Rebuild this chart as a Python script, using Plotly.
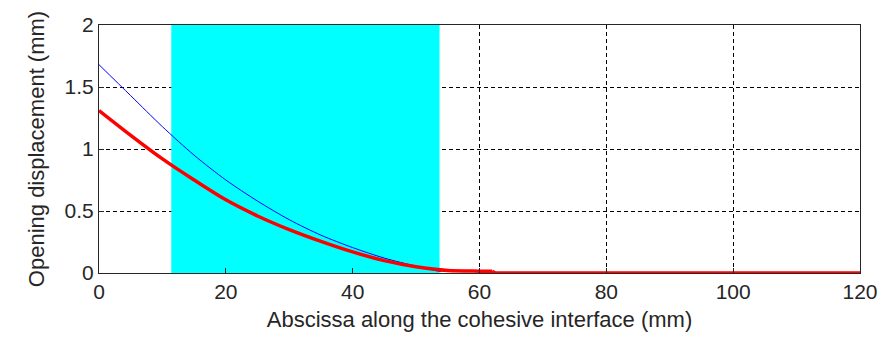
import plotly.graph_objects as go

# Data
blue_x = [0, 5, 10, 15, 20, 25, 30, 35, 40, 45, 50, 53, 54]
blue_y = [1.68, 1.43, 1.18, 0.95, 0.75, 0.58, 0.43, 0.305, 0.205, 0.12, 0.055, 0.02, 0.01]

red_x = [0, 5, 10, 15, 20, 25, 30, 35, 40, 45, 50, 55, 60, 62, 62.5, 120]
red_y = [1.31, 1.11, 0.92, 0.75, 0.59, 0.46, 0.35, 0.255, 0.17, 0.10, 0.05, 0.02, 0.015, 0.014, 0.0, 0.0]

zone_x = [11.4, 53.7]      # cyan region along x
zone_y = [0, 2]            # spans full y range

x_ticks = [0, 20, 40, 60, 80, 100, 120]
y_ticks = [0, 0.5, 1, 1.5, 2]
y_tick_text = ["0", "0.5", "1", "1.5", "2"]

FONT = "Arial, 'Liberation Sans', sans-serif"
TXT = "#262626"

fig = go.Figure()

fig.add_trace(go.Scatter(
    x=[zone_x[0], zone_x[1], zone_x[1], zone_x[0], zone_x[0]],
    y=[zone_y[0], zone_y[0], zone_y[1], zone_y[1], zone_y[0]],
    fill="toself", fillcolor="#00ffff", mode="none",
    hoverinfo="skip", showlegend=False))

fig.add_trace(go.Scatter(x=blue_x, y=blue_y, mode="lines",
                         line=dict(color="#0000ff", width=1,
                                   shape="spline", smoothing=0.8),
                         showlegend=False))
fig.add_trace(go.Scatter(x=red_x[:-2], y=red_y[:-2], mode="lines",
                         line=dict(color="#ff0000", width=3.5,
                                   shape="spline", smoothing=0.8),
                         showlegend=False))
fig.add_trace(go.Scatter(x=red_x[-3:], y=red_y[-3:], mode="lines",
                         line=dict(color="#ff0000", width=3.5),
                         showlegend=False))

axis_common = dict(
    showline=True, linecolor=TXT, linewidth=1, mirror=True,
    ticks="inside", ticklen=5, tickcolor=TXT,
    showgrid=True, gridcolor="#000000", gridwidth=1, griddash="4px,3px",
    zeroline=False,
    tickfont=dict(family=FONT, size=21, color=TXT),
)

fig.update_layout(
    width=889, height=342,
    margin=dict(l=99, r=29, t=25, b=69),
    paper_bgcolor="white", plot_bgcolor="white",
    xaxis=dict(range=[0, 120], tickvals=x_ticks,
               title=dict(text="Abscissa along the cohesive interface (mm)",
                          font=dict(family=FONT, size=22, color=TXT), standoff=9),
               **axis_common),
    yaxis=dict(range=[0, 2], tickvals=y_ticks, ticktext=y_tick_text,
               title=dict(text="Opening displacement (mm)",
                          font=dict(family=FONT, size=22, color=TXT), standoff=13),
               **axis_common),
)

fig.write_html("out.html", config={"displayModeBar": False})
